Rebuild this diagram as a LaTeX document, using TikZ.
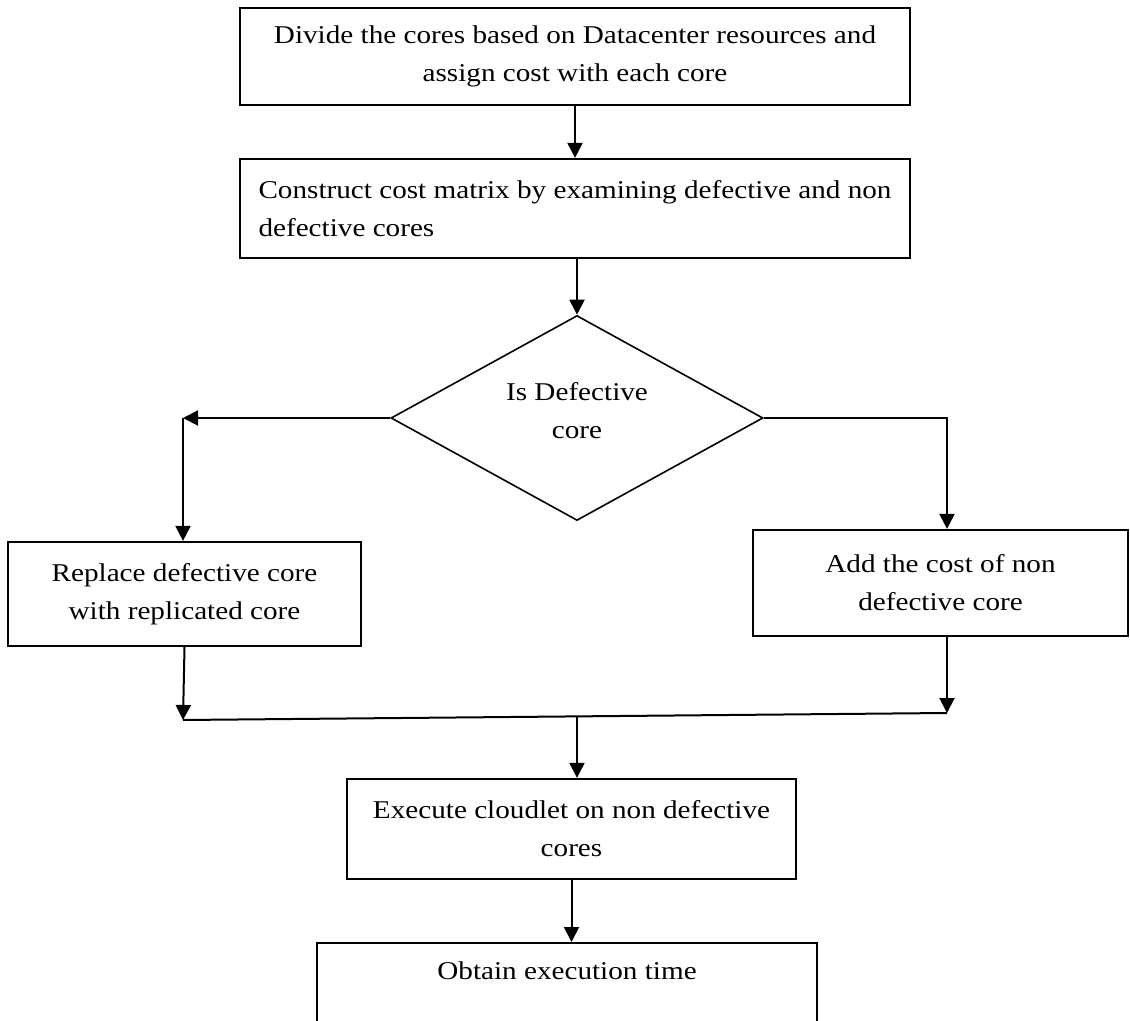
\documentclass[tikz,border=0pt]{standalone}
\usepackage{fontspec}
\setmainfont{Liberation Serif}[FakeStretch=1.14]
\usetikzlibrary{shapes.geometric,arrows.meta}
\begin{document}
\begin{tikzpicture}[x=0.5pt,y=-0.5pt,
  txt/.style={font=\fontsize{12.8}{19}\selectfont},
  box/.style={draw, line width=1.1pt, rectangle, inner sep=0pt, txt},
  dec/.style={draw, diamond, line width=0.8pt, aspect=1.8, inner sep=0pt, txt},
  arr/.style={line width=1pt, -{Triangle[length=7.5pt,width=7.5pt]}},
  ln/.style={line width=1pt}]
\clip (0,0) rectangle (1130,1021);
\fill[white] (0,0) rectangle (1130,1021);

\node[box, minimum width=335pt, minimum height=48.5pt, align=center] (b1) at (575,56.5)
  {Divide the cores based on Datacenter resources and\\assign cost with each core};
\node[box, minimum width=335pt, minimum height=49.5pt, align=left] (b2) at (575,208.5)
  {Construct cost matrix by examining defective and non\\defective cores};
\node[dec, minimum width=186pt, minimum height=102.5pt, align=center, text depth=8pt] (d) at (577,418)
  {Is Defective\\core};
\node[box, minimum width=176.5pt, minimum height=52pt, align=center] (L) at (184.5,594)
  {Replace defective core\\with replicated core};
\node[box, minimum width=187.5pt, minimum height=53pt, align=center] (R) at (940.5,583)
  {Add the cost of non\\defective core};
\node[box, minimum width=224.5pt, minimum height=50pt, align=center] (E) at (571.5,829)
  {Execute cloudlet on non defective\\cores};
\node[box, minimum width=250pt, anchor=north, inner sep=6pt, text height=12pt, text depth=40pt] (O) at (567,942)
  {Obtain execution time};

\coordinate (cl) at (183,418);
\coordinate (cr) at (947,418);
\coordinate (jl) at (183,720);
\coordinate (jr) at (947,713);
\coordinate (jm) at (577,717);

\draw[arr] (b1.south) -- (b2.north);
\draw[arr] (b2.south -| d.north) -- (d.north);
\draw[arr] (d.west) -- (cl);
\draw[arr] (cl) -- (cl |- L.north);
\draw[arr] (d.east) -- (cr) -- (cr |- R.north);
\draw[arr] (L.south) -- (jl);
\draw[arr] (jr |- R.south) -- (jr);
\draw[ln] (jl) -- (jr);
\draw[arr] (jm) -- (jm |- E.north);
\draw[arr] (E.south) -- (E.south |- O.north);
\end{tikzpicture}
\end{document}
